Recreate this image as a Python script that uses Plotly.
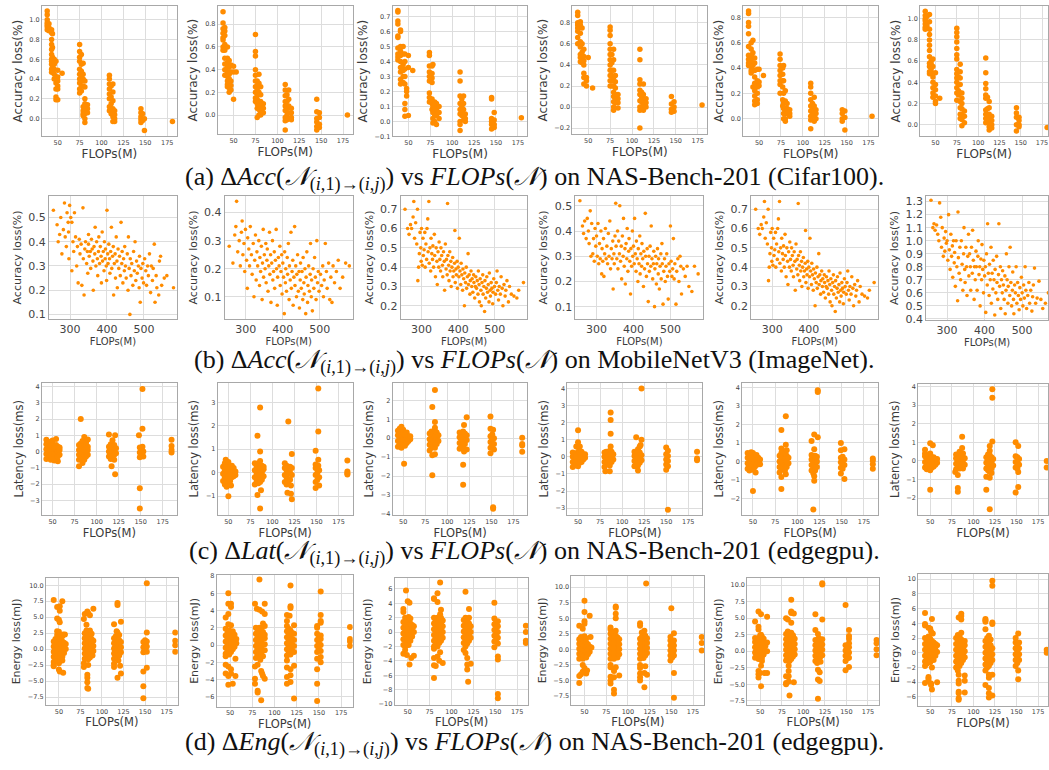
import plotly.graph_objects as go

ORANGE = "#FF8C00"
W, H = 1049, 770

# ---------------- Row (a): NAS-Bench-201 Cifar100, accuracy loss vs FLOPs ----------------
A1 = [(38,[0.9,0.93,0.95,0.97,1.0,1.05,1.09]),(40,[0.89,0.92,0.96]),(43,[0.9,0.87,0.8,0.75,0.7,0.65,0.6,0.58,0.55,0.5,0.47]),
      (44,[0.86,0.72,0.62,0.52,0.48]),(46,[0.6,0.57,0.55,0.5,0.45,0.4]),(48,[0.36,0.3,0.22,0.19,0.42,0.58]),
      (50,[0.49,0.42,0.38,0.33,0.3,0.19]),(55,[0.46]),(75,[0.75,0.68,0.62,0.58,0.5,0.45,0.4,0.36,0.3,0.26]),
      (77,[0.65,0.55,0.48,0.42,0.38,0.33,0.28]),(79,[0.56,0.45,0.4,0.33,0.12,0.08,0.05,0.03]),
      (81,[0.38,0.32,0.2,0.15,0.1,0.05,0.0,-0.04]),(84,[0.14,0.1,0.06]),(109,[0.44,0.4,0.35,0.3,0.25,0.2,0.12,0.08]),
      (111,[0.33,0.22,0.15,0.1,0.05]),(113,[0.35,0.27,0.18,0.1,0.02,-0.03]),(115,[0.08,0.04,0.0,-0.03]),
      (145,[0.1,0.06,0.02,-0.01,-0.04]),(147,[0.05,-0.02]),(149,[0.0,-0.12]),(181,[-0.03])]
A2 = [(38,[0.91,0.81,0.76,0.72,0.68,0.66,0.6,0.57]),(40,[0.77,0.74,0.7,0.62,0.57,0.5,0.45,0.4,0.35]),
      (43,[0.6,0.5,0.46,0.42,0.38,0.34,0.3,0.27,0.25]),(45,[0.48,0.42,0.36,0.32,0.28,0.24,0.2]),
      (47,[0.44,0.38,0.3,0.26,0.22]),(50,[0.43,0.38,0.14]),(53,[0.38]),
      (75,[0.71,0.56,0.52,0.4,0.35,0.3,0.25,0.2,0.15,0.12]),(77,[0.3,0.26,0.22,0.18,0.14,0.1,0.06,-0.02]),
      (79,[0.36,0.28,0.2,0.12,0.05,0.0]),(81,[0.25,0.18,0.12,0.08,0.03,0.0]),(84,[0.1,0.06,0.02]),
      (109,[0.27,0.22,0.17,0.12,0.08,0.04,-0.02,-0.05,-0.13]),(111,[0.18,0.12,0.06,0.0,-0.04]),
      (113,[0.22,0.14,0.08,0.02,-0.03]),(116,[0.06,0.02,-0.02,-0.04]),
      (145,[0.14,0.03,-0.03,-0.06,-0.1,-0.13]),(148,[0.02,-0.02,-0.08,-0.11]),(180,[0.0])]
A3 = [(38,[0.74,0.73,0.67,0.65,0.57,0.56,0.49,0.45,0.43,0.41]),(41,[0.61,0.6,0.5,0.47,0.44,0.4,0.36,0.33,0.28,0.25]),
      (44,[0.5,0.45,0.38,0.34,0.3,0.26]),(46,[0.45,0.4,0.35,0.3,0.25,0.12,0.08,0.035]),(48,[0.22,0.2,0.17]),
      (50,[0.44,0.36,0.04]),(55,[0.34]),(74,[0.46,0.44,0.37,0.33,0.3,0.27,0.19,0.16,0.13]),
      (77,[0.37,0.32,0.29,0.26,0.15,0.12,0.08]),(78,[0.38,0.13,0.1,0.06,0.02,-0.01]),(80,[0.13,0.1,0.07,0.04,0.0]),
      (82,[0.12,0.08,0.04,-0.02]),(85,[0.1,0.06,0.02]),(109,[0.33,0.27,0.17,0.12,0.08,0.05,0.0,-0.02,-0.06]),
      (111,[0.15,0.1,0.07,0.04]),(113,[0.17,0.12,0.08,0.04,0.01]),(115,[0.05,0.02,0.0]),
      (145,[0.16,0.15,0.02,0.0,-0.02,-0.05]),(148,[0.06,0.01,-0.02,-0.04]),(179,[0.025])]
A4 = [(38,[0.9,0.87,0.8,0.78,0.75,0.72,0.66,0.6]),(41,[0.81,0.78,0.7,0.62,0.57,0.5,0.47,0.43]),
      (43,[0.75,0.6,0.52,0.45,0.42]),(45,[0.55,0.48,0.44,0.4,0.32,0.28,0.22]),(48,[0.28,0.25,0.2]),(50,[0.47]),(55,[0.18]),
      (75,[0.76,0.73,0.68,0.6,0.55,0.5,0.45,0.4,0.35,0.3,0.25,0.2]),(77,[0.5,0.42,0.35,0.3,0.25,0.2]),
      (79,[0.55,0.45,0.35,0.28,0.2,0.14,0.1,0.05,0.0,-0.03]),(81,[0.3,0.24,0.18,0.12,0.08,0.04]),(84,[0.12,0.08,0.04,-0.01]),
      (109,[0.55,0.45,0.26,0.22,0.16,0.12,0.06,0.0,-0.03,-0.2]),(111,[0.14,0.1,0.05,0.0]),
      (113,[0.22,0.12,0.06,0.02,-0.03]),(116,[0.08,0.04,0.0]),(145,[0.1,0.03,-0.02,-0.05]),(148,[0.05,0.0,-0.04]),(180,[0.02])]
A5 = [(38,[0.85,0.83,0.76,0.73,0.67,0.57,0.5,0.47,0.44,0.42]),(41,[0.6,0.55,0.5,0.47,0.44,0.41,0.38,0.36]),
      (43,[0.62,0.52,0.48,0.42,0.38,0.25]),(45,[0.48,0.44,0.38,0.33,0.28,0.22,0.18,0.14,0.11]),
      (48,[0.39,0.3,0.25,0.2,0.15,0.12]),(50,[0.39,0.29,0.26]),(55,[0.34]),
      (74,[0.51,0.47,0.42,0.38,0.34,0.3,0.27,0.2]),(77,[0.4,0.35,0.3,0.25,0.15,0.1]),(78,[0.42,0.3,0.2,0.12,0.08,0.04,0.0]),
      (80,[0.22,0.14,0.08,0.04,0.0,-0.02]),(82,[0.12,0.08,0.04]),(85,[0.07,0.04,0.02]),
      (109,[0.28,0.25,0.2,0.15,0.1,0.06,0.02,-0.01,-0.08]),(111,[0.12,0.08,0.04]),(113,[0.17,0.1,0.06,0.02,-0.02]),
      (115,[0.07,0.04,0.0]),(145,[0.07,0.04,0.0,-0.02]),(148,[0.06,0.01,-0.09]),(179,[0.02])]
A6 = [(38,[1.07,1.03,1.0,0.98,0.95,0.92,0.9]),(40,[1.02,0.96,0.93]),(43,[1.04,0.97,0.9,0.85,0.8,0.75,0.7,0.64,0.58,0.55,0.5,0.48]),
      (45,[0.6,0.57,0.53,0.5,0.48]),(47,[0.62,0.55,0.45,0.4,0.35,0.3,0.26]),(50,[0.49,0.38,0.33,0.27,0.22,0.2]),(55,[0.25]),
      (75,[0.91,0.87,0.83,0.78,0.72,0.66,0.62,0.52,0.48,0.44,0.4,0.35,0.3,0.23]),(77,[0.45,0.38,0.32,0.28]),
      (79,[0.57,0.5,0.44,0.38,0.3,0.22,0.16,0.1,0.06]),(81,[0.3,0.25,0.2,0.15,0.1,0.05,-0.01]),(84,[0.13,0.08,0.02]),
      (109,[0.63,0.49,0.39,0.34,0.28,0.25,0.14,0.1,0.06,0.02]),(111,[0.26,0.15,0.08,0.04]),
      (113,[0.22,0.16,0.1,0.06,0.02,-0.02,-0.05]),(116,[0.08,0.04,0.0,-0.03]),(145,[0.16,0.11,0.07,0.0,-0.06]),
      (148,[0.07,0.04,0.0,-0.02]),(181,[-0.025])]

# ---------------- Row (b): MobileNetV3 ImageNet, (FLOPs, accuracy loss) ----------------
B1 = [(255,0.53),(265,0.47),(268,0.40),(272,0.43),(275,0.50),(278,0.35),(282,0.45),(285,0.56),(287,0.42),(290,0.38),
      (292,0.52),(295,0.48),(297,0.33),(299,0.55),(296,0.44),(302,0.50),(305,0.48),(305,0.28),(308,0.40),(310,0.36),
      (312,0.52),(315,0.42),(318,0.30),(320,0.38),(322,0.23),(325,0.41),(327,0.35),(330,0.39),(332,0.22),(335,0.54),
      (336,0.33),(338,0.18),(340,0.37),(342,0.40),(345,0.31),(347,0.36),(348,0.27),(350,0.39),(350,0.43),(352,0.34),
      (355,0.36),(356,0.29),(358,0.41),(360,0.37),(362,0.32),(363,0.20),(365,0.38),(367,0.35),(368,0.46),(370,0.30),
      (372,0.40),(374,0.33),(375,0.26),(377,0.36),(378,0.42),(380,0.31),(382,0.38),(384,0.34),(385,0.23),(387,0.44),
      (388,0.32),(390,0.36),(392,0.28),(393,0.40),(395,0.33),(396,0.37),(398,0.30),(399,0.24),(400,0.53),(402,0.35),
      (403,0.31),(405,0.39),(407,0.33),(408,0.27),(410,0.36),(412,0.46),(413,0.29),(415,0.34),(417,0.38),(418,0.18),
      (420,0.31),(422,0.35),(423,0.25),(425,0.42),(427,0.32),(428,0.21),(430,0.37),(432,0.29),(434,0.34),(436,0.26),
      (438,0.48),(440,0.31),(441,0.36),(443,0.23),(445,0.33),(447,0.28),(448,0.38),(450,0.30),(452,0.25),(455,0.35),
      (457,0.20),(458,0.42),(460,0.29),(462,0.10),(463,0.33),(465,0.26),(467,0.31),(470,0.22),(472,0.36),(474,0.28),
      (476,0.40),(478,0.24),(480,0.32),(482,0.27),(485,0.30),(487,0.21),(488,0.34),(490,0.15),(492,0.29),(495,0.25),
      (497,0.31),(499,0.23),(502,0.33),(505,0.28),(507,0.22),(510,0.30),(512,0.26),(515,0.35),(518,0.19),(520,0.30),
      (523,0.24),(525,0.29),(528,0.39),(530,0.15),(533,0.26),(535,0.21),(540,0.18),(542,0.32),(545,0.34),(548,0.22),
      (555,0.25),(562,0.26),(580,0.21)]
B2 = [(255,0.28),(265,0.22),(270,0.32),(273,0.35),(275,0.44),(278,0.26),(282,0.30),(285,0.21),(288,0.33),(290,0.37),
      (292,0.25),(295,0.29),(297,0.19),(299,0.34),(302,0.23),(304,0.13),(305,0.31),(308,0.27),(310,0.21),(312,0.35),
      (315,0.25),(317,0.18),(320,0.29),(322,0.10),(324,0.23),(326,0.32),(328,0.16),(330,0.26),(332,0.21),(335,0.30),
      (337,0.14),(338,0.24),(340,0.19),(342,0.28),(344,0.09),(345,0.22),(347,0.34),(348,0.17),(350,0.25),(352,0.20),
      (354,0.29),(355,0.15),(357,0.23),(358,0.27),(360,0.12),(362,0.21),(364,0.33),(365,0.18),(367,0.25),(368,0.08),
      (370,0.22),(372,0.30),(373,0.16),(375,0.19),(377,0.26),(378,0.13),(380,0.23),(382,0.34),(383,0.20),(385,0.07),
      (386,0.17),(388,0.24),(390,0.21),(392,0.28),(393,0.14),(395,0.19),(397,0.25),(398,0.11),(400,0.22),(402,0.17),
      (404,0.04),(405,0.26),(407,0.15),(408,0.20),(410,0.12),(412,0.24),(413,0.18),(415,0.29),(417,0.09),(418,0.21),
      (420,0.16),(422,0.33),(423,0.13),(425,0.19),(427,0.23),(428,0.07),(430,0.17),(432,0.35),(433,0.14),(435,0.21),
      (437,0.10),(438,0.18),(440,0.25),(442,0.12),(444,0.19),(445,0.06),(447,0.16),(448,0.22),(450,0.13),(452,0.19),
      (454,0.09),(455,0.24),(457,0.15),(458,0.11),(460,0.20),(462,0.04),(463,0.17),(465,0.26),(467,0.08),(468,0.14),
      (470,0.21),(472,0.12),(474,0.18),(475,0.29),(477,0.10),(478,0.16),(480,0.05),(482,0.20),(484,0.13),(486,0.24),
      (488,0.17),(490,0.09),(492,0.30),(494,0.15),(496,0.19),(498,0.12),(502,0.18),(505,0.14),(508,0.21),(510,0.10),
      (512,0.16),(515,0.29),(518,0.19),(520,0.13),(524,0.22),(527,0.09),(530,0.17),(533,0.08),(536,0.21),(540,0.15),
      (545,0.19),(550,0.23),(555,0.13),(562,0.17),(570,0.22),(580,0.21)]
B3 = [(255,0.70),(262,0.60),(266,0.57),(270,0.62),(273,0.60),(277,0.66),(279,0.74),(281,0.55),(284,0.63),(287,0.52),
      (289,0.70),(290,0.33),(292,0.40),(294,0.47),(296,0.58),(298,0.50),(299,0.43),(300,0.60),(302,0.41),(304,0.55),
      (305,0.46),(307,0.49),(309,0.58),(310,0.40),(312,0.52),(314,0.44),(315,0.60),(317,0.65),(318,0.48),(320,0.74),
      (321,0.42),(323,0.50),(325,0.38),(326,0.55),(328,0.47),(330,0.44),(331,0.51),(333,0.40),(335,0.57),(336,0.46),
      (338,0.35),(340,0.50),(342,0.43),(343,0.31),(345,0.48),(347,0.40),(348,0.53),(350,0.44),(352,0.38),(353,0.50),
      (355,0.46),(357,0.41),(358,0.35),(360,0.48),(362,0.43),(363,0.28),(365,0.52),(367,0.39),(368,0.44),(370,0.36),
      (371,0.73),(372,0.46),(374,0.41),(375,0.33),(377,0.48),(378,0.38),(380,0.43),(381,0.30),(383,0.40),(385,0.45),
      (386,0.35),(388,0.38),(390,0.42),(391,0.59),(392,0.32),(394,0.39),(395,0.36),(397,0.43),(398,0.29),(400,0.40),
      (402,0.35),(403,0.55),(405,0.38),(407,0.31),(408,0.42),(410,0.36),(412,0.28),(413,0.39),(415,0.34),(417,0.20),
      (418,0.37),(420,0.32),(422,0.40),(423,0.29),(425,0.35),(427,0.47),(428,0.31),(430,0.36),(432,0.26),(433,0.33),
      (435,0.38),(437,0.30),(438,0.34),(440,0.27),(442,0.36),(443,0.32),(445,0.24),(447,0.30),(448,0.35),(450,0.29),
      (452,0.33),(454,0.26),(455,0.38),(457,0.31),(458,0.22),(460,0.34),(462,0.28),(463,0.20),(465,0.32),(467,0.36),
      (468,0.26),(470,0.30),(472,0.17),(473,0.33),(475,0.24),(477,0.29),(478,0.35),(480,0.27),(482,0.31),(484,0.22),
      (485,0.37),(487,0.28),(488,0.25),(490,0.32),(492,0.29),(494,0.21),(495,0.27),(497,0.34),(499,0.30),(502,0.26),
      (504,0.32),(506,0.38),(508,0.28),(510,0.23),(512,0.30),(515,0.26),(517,0.35),(520,0.29),(522,0.20),(525,0.31),
      (528,0.25),(530,0.28),(533,0.33),(537,0.22),(540,0.30),(545,0.26),(552,0.25),(560,0.24),(565,0.28),(578,0.32)]
B4 = [(255,0.52),(262,0.42),(265,0.39),(268,0.44),(272,0.37),(275,0.45),(278,0.40),(280,0.35),(283,0.48),(285,0.30),
      (287,0.43),(290,0.31),(292,0.37),(294,0.28),(296,0.41),(298,0.34),(300,0.38),(302,0.30),(304,0.43),(306,0.27),
      (308,0.35),(310,0.29),(312,0.40),(314,0.23),(315,0.33),(317,0.28),(319,0.37),(320,0.22),(322,0.31),(324,0.41),
      (326,0.29),(328,0.34),(330,0.27),(332,0.39),(334,0.30),(336,0.44),(338,0.25),(340,0.33),(342,0.29),(344,0.36),
      (345,0.17),(347,0.31),(348,0.27),(350,0.38),(352,0.51),(353,0.34),(355,0.29),(357,0.40),(358,0.25),(360,0.36),
      (362,0.31),(363,0.50),(365,0.28),(367,0.34),(368,0.21),(370,0.38),(372,0.30),(373,0.45),(375,0.26),(377,0.33),
      (378,0.19),(380,0.35),(382,0.29),(383,0.41),(385,0.24),(387,0.32),(388,0.37),(390,0.28),(392,0.15),(393,0.33),
      (395,0.26),(397,0.40),(398,0.30),(400,0.34),(402,0.27),(403,0.45),(405,0.31),(407,0.24),(408,0.36),(410,0.29),
      (412,0.20),(413,0.33),(415,0.27),(417,0.38),(418,0.23),(420,0.31),(422,0.26),(423,0.35),(425,0.29),(427,0.18),
      (428,0.32),(430,0.25),(432,0.47),(433,0.30),(435,0.22),(437,0.33),(438,0.27),(440,0.12),(442,0.30),(443,0.24),
      (445,0.34),(447,0.26),(448,0.42),(450,0.29),(452,0.21),(454,0.27),(455,0.32),(457,0.10),(458,0.25),(460,0.30),
      (462,0.19),(463,0.27),(465,0.33),(467,0.23),(468,0.29),(470,0.17),(472,0.26),(474,0.31),(475,0.21),(477,0.35),
      (478,0.27),(480,0.11),(482,0.24),(484,0.29),(486,0.20),(488,0.26),(490,0.31),(492,0.22),(494,0.13),(496,0.27),
      (498,0.24),(500,0.42),(502,0.28),(504,0.22),(506,0.25),(508,0.37),(510,0.21),(512,0.27),(515,0.11),(517,0.24),
      (520,0.29),(523,0.20),(526,0.30),(528,0.26),(530,0.15),(535,0.25),(540,0.22),(545,0.26),(550,0.18),(558,0.16),
      (565,0.26),(575,0.23)]
B6 = [(257,1.31),(262,1.10),(265,1.13),(268,1.08),(272,1.12),(275,1.05),(278,1.00),(280,1.29),(283,1.18),(285,0.95),
      (287,1.10),(290,0.88),(292,1.02),(294,0.92),(296,1.07),(298,0.98),(300,1.00),(302,0.85),(304,1.20),(306,0.93),
      (308,0.78),(310,1.05),(312,0.88),(314,0.96),(315,0.72),(317,1.00),(319,0.83),(320,0.91),(322,0.65),(324,1.00),
      (326,0.80),(328,0.54),(329,1.22),(330,0.87),(332,0.75),(334,0.95),(336,0.70),(338,1.00),(340,0.82),(342,0.62),
      (344,0.90),(345,1.10),(347,0.78),(348,0.68),(350,0.95),(352,0.80),(353,0.58),(355,0.88),(357,1.05),(358,0.73),
      (360,0.90),(362,0.80),(363,0.62),(365,0.95),(367,0.75),(368,1.08),(370,0.85),(372,0.55),(373,0.80),(375,0.70),
      (377,0.92),(378,0.80),(380,0.62),(382,0.88),(383,1.00),(385,0.74),(387,0.80),(388,0.50),(390,0.86),(392,0.70),
      (393,0.97),(395,0.78),(397,0.60),(398,0.85),(400,0.73),(402,0.80),(403,0.45),(405,0.90),(407,0.66),(408,1.13),
      (410,0.75),(412,0.58),(413,0.82),(415,0.70),(417,0.95),(418,0.52),(420,0.75),(422,0.63),(423,0.85),(425,0.70),
      (427,0.43),(428,0.78),(430,0.60),(432,0.88),(433,0.68),(435,0.55),(437,0.74),(438,1.13),(440,0.65),(442,0.80),
      (443,0.48),(445,0.70),(447,0.60),(448,0.77),(450,0.66),(452,0.55),(454,0.73),(455,0.44),(457,0.62),(458,0.90),
      (460,0.70),(462,0.52),(463,0.65),(465,0.80),(467,0.58),(468,0.95),(470,0.68),(472,0.50),(474,0.62),(475,0.76),
      (477,0.55),(478,0.44),(480,0.66),(482,0.60),(484,0.80),(486,0.52),(488,0.68),(490,0.58),(492,0.47),(494,0.64),
      (496,0.55),(498,0.72),(500,0.60),(502,0.50),(504,0.66),(506,0.56),(508,0.80),(510,0.62),(512,0.48),(515,0.58),
      (518,0.68),(520,0.52),(523,0.62),(526,0.46),(528,0.57),(530,0.66),(533,0.79),(536,0.52),(540,0.56),(545,0.69),
      (550,0.55),(555,0.48),(562,0.52),(570,0.60),(578,0.53)]
B5 = B3  # the fifth panel repeats the third one in the source figure

# ---------------- Row (c): NAS-Bench-201 edgegpu, latency loss ----------------
C1 = [(43,[-0.45,-0.15,0.15,0.45,0.72]),(46,[-0.35,-0.05,0.25,0.5]),(48,[-0.5,-0.2,0.1,0.38,0.6]),(50,[-0.4,-0.1,0.2,0.45,0.68]),
      (52,[-0.55,-0.25,0.05,0.3]),(54,[-0.45,-0.15,0.15,0.4,0.78]),(56,[-0.6,-0.3,0.0,0.3]),(58,[-0.2,0.1,0.25]),
      (80,[-0.9,-0.5,-0.2,0.1,0.4]),(82,[-0.35,-0.05,0.25,0.5,2.0]),(84,[-0.7,-0.4,-0.1,0.2,0.65]),(86,[-0.5,-0.2,0.1,0.4,0.9]),
      (88,[-0.3,0.0,0.3,0.55]),(90,[-0.2,0.1,0.3,0.75]),(114,[-0.3,0.0,0.3,1.05]),(116,[-0.45,-0.15,0.15,0.45]),(117,[-0.9]),
      (118,[-0.3,0.0,0.3,0.7]),(120,[-0.5,-0.2,0.1,0.4]),(121,[1.0,-1.4]),(122,[-0.1,0.2]),(148,[1.0]),
      (149,[-2.25,-3.5,-0.35,-0.05,0.25]),(151,[-0.2,0.1]),(152,[3.85,1.4,0.3]),(153,[-0.3,0.0]),(185,[0.72,0.35,0.1,-0.05])]
C2 = [(44,[-0.35,-0.05,0.25]),(46,[-0.5,-0.2,0.1,0.4]),(47,[0.55]),(48,[-0.6,-0.3,0.0,0.3]),(50,[-1.0,-0.45,-0.15,0.15,0.45]),
      (52,[-0.35,-0.05,0.25]),(53,[-0.55]),(54,[-0.2,0.1,0.3]),(56,[-0.15,0.05,0.2]),(58,[-0.1,0.05]),
      (80,[-0.5,-0.2,0.1,0.4]),(82,[-0.35,-0.05,0.25]),(83,[1.57,-0.95]),(84,[-0.45,-0.15,0.15,0.4]),
      (86,[2.78,0.9,-0.4,-0.1,0.2,0.5,-1.53]),(87,[-0.75]),(88,[-0.3,0.0,0.3]),(90,[-0.15,0.15,0.25]),
      (114,[-0.4,-0.1,0.2,0.4]),(116,[-0.5,-0.2,0.1,0.3]),(117,[-0.85]),(118,[2.18,-0.35,-0.05,0.25]),(120,[-0.3,0.0,0.25]),
      (121,[-0.9,-0.55]),(122,[0.8,-1.13,-0.1,0.2]),(149,[0.93,-0.65,-0.4,-0.1,0.2,0.35]),(151,[-0.3,0.0,0.15]),
      (152,[3.58,1.75,0.55,0.3]),(153,[-0.55,-0.2,0.1]),(185,[0.52,0.05,-0.02,-0.08])]
C3 = [(44,[-0.45,-0.15,0.15,0.4]),(46,[-0.3,0.0,0.3,0.5]),(48,[-0.5,-0.2,0.1,0.6]),(50,[-0.35,-0.05,0.25,0.45]),(51,[-1.35]),
      (52,[-0.4,-0.1,0.2]),(54,[-0.25,0.05,0.3]),(56,[-0.15,0.1]),(58,[-0.05,0.1]),
      (80,[-0.65,-0.35,-0.05,0.25]),(82,[-0.5,-0.2,0.1,0.35]),(83,[1.65,-0.9,-1.95]),(84,[-0.35,-0.05,0.25]),
      (86,[2.55,0.85,0.55,-0.85,-0.5,-0.2,0.1,0.4]),(88,[-0.3,0.0,0.3]),(90,[-0.15,0.15]),
      (114,[-0.55,-0.25,0.05,0.3]),(116,[-0.4,-0.1,0.2]),(118,[-1.4,-2.45,-0.5,-0.2,0.1,0.35]),(119,[0.7,-0.7]),
      (120,[-0.3,0.0,0.25]),(122,[1.1,-0.6,-0.1,0.15]),(149,[1.15,0.5,-0.8,-0.5,-0.2,0.1]),(151,[-0.35,-0.05,0.2]),
      (152,[0.45,-3.65,-3.72]),(153,[-0.6,-0.3,0.0]),(185,[0.02,-0.3,-0.38,-0.72])]
C4 = [(44,[-0.6,-0.3,0.0,0.25]),(46,[-0.5,-0.2,0.1]),(48,[0.6,-0.4,-0.1,0.2]),(50,[1.55,0.85,-0.55,-0.25,0.05,0.3]),
      (52,[0.6,-0.35,-0.05,0.25]),(54,[-0.3,0.0,0.3]),(56,[-0.15,0.15]),(58,[-0.05,0.15]),
      (80,[-0.6,-0.3,0.0,0.25]),(81,[-0.85]),(82,[-0.45,-0.15,0.15,0.3]),(84,[-0.35,-0.05,0.25]),(86,[-0.85,-0.5,-0.2,0.1,0.35]),
      (87,[2.6,2.15,1.35,0.6]),(88,[-0.3,0.0,0.3]),(90,[-0.15,0.15]),(114,[-0.55,-0.25,0.05,0.3]),(116,[1.15,-0.4,-0.1,0.2]),
      (118,[-0.8,-0.5,-0.2,0.1,0.45]),(120,[-0.35,-0.05,0.25,0.6]),(121,[0.7]),(122,[4.0,1.0,-0.2,0.1]),
      (150,[0.55,-0.75,-0.45,-0.15,0.15]),(152,[-3.1,-0.55,-0.25,0.05,0.35]),(185,[0.3,-0.1,-0.2])]
C5 = [(44,[-0.4,-0.1,0.2,0.45]),(46,[-0.5,-0.2,0.1,0.4]),(48,[-0.35,-0.05,0.25,0.5]),(50,[-1.6,-0.45,-0.15,0.15,0.45]),
      (52,[-0.3,0.0,0.3]),(53,[-0.6]),(54,[-0.2,0.1,0.35]),(56,[-0.1,0.2]),(58,[-0.15,0.1]),
      (80,[-0.6,-0.3,0.0,0.3]),(82,[1.7,0.7,-0.85,-1.5,-0.45,-0.15,0.15,0.45]),(84,[-0.35,-0.05,0.25,0.55]),
      (86,[-0.5,-0.2,0.1,0.4]),(87,[2.45,0.9,-0.7]),(88,[-0.3,0.0,0.3,0.6]),(90,[-0.1,0.2]),
      (116,[1.1,0.35,-0.5,-0.2,0.1]),(118,[-2.6,-0.65,-0.35,-0.05,0.25]),(119,[1.45,0.65,-1.05,-0.8]),
      (120,[-0.5,-0.2,0.1,0.3]),(122,[-0.3,0.0,0.25]),(123,[3.85,3.75,1.3]),(149,[1.0,0.6,-0.65,-0.35,-0.05,0.2]),
      (151,[-0.4,-0.1,0.25]),(153,[0.65,-0.95,-0.2,0.1]),(185,[0.15,0.05,-0.15,-0.4])]
C6 = [(44,[0.6,-0.35,-0.05,0.25,0.4]),(46,[-0.45,-0.15,0.15]),(48,[-0.3,0.0,0.3]),(50,[0.95,-1.55,-0.5,-0.2,0.1,0.4]),
      (52,[-0.35,-0.05,0.2]),(53,[0.85]),(54,[-0.3,0.0,0.2]),(56,[-0.2,0.1]),(58,[-0.1,0.1]),
      (79,[-0.6]),(80,[-0.45,-0.15,0.15,0.35]),(82,[-1.45,-1.65,-0.75,-0.3,0.0,0.3]),(84,[-0.4,-0.1,0.2,0.5]),
      (86,[-0.35,-0.05,0.25]),(87,[1.3,0.7]),(88,[-0.4,-0.1,0.2,0.4]),(90,[-0.2,0.15]),
      (115,[-1.55,-0.85,-0.4,-0.1,0.2]),(117,[-0.5,-0.2,0.1,0.35]),(119,[0.8,0.55,-2.6,-0.9,-0.6,-0.3,0.0,0.3]),
      (121,[-0.65,-0.4,-0.1,0.2]),(122,[3.85,3.4,1.05]),(123,[-0.25,0.1]),(149,[1.0,-1.7,-0.35,-0.05,0.25]),
      (151,[-0.4,-0.1,0.2]),(152,[0.8,-0.6,-1.4]),(153,[-0.2,0.1]),(185,[0.0,-0.35])]

# ---------------- Row (d): NAS-Bench-201 edgegpu, energy loss ----------------
D1 = [(44,[-2.0,-1.2,-0.4,0.4,1.2,7.7,-2.5,-2.7]),(46,[-1.5,-0.7,0.1,0.9,1.6]),(48,[-1.8,-1.0,-0.2,0.6,1.4,2.2,6.6,4.8,2.8]),
      (50,[-1.3,-0.5,0.3,1.1,1.9,2.7,4.6,-2.2,-3.2]),(51,[6.7,6.0,4.2,-3.5]),(52,[-1.6,-0.8,0.0,0.8,1.6]),
      (54,[-1.2,-0.4,0.4,1.2,2.0,7.5,-1.8]),(55,[2.3,-3.7]),(56,[-0.6,0.2,1.0]),(57,[2.3]),(58,[0.0,0.8]),
      (79,[4.7,-2.2,-2.8]),(80,[-1.5,-0.7,0.1,0.9,1.7,2.5,5.5]),(82,[-1.2,-0.4,0.4,1.2,2.0,2.9,3.8]),(83,[5.9,-4.0,-4.5,-5.2,-6.1]),
      (84,[-1.6,-0.8,0.0,0.8,1.6,2.4,5.6,-2.5,-6.2]),(86,[-1.3,-0.5,0.3,1.1,1.9,2.9,5.3]),(88,[-0.8,0.0,0.8,1.6,2.4]),(89,[-1.0]),
      (90,[-0.3,0.5,1.3,6.3]),(114,[-1.5,-0.7,0.1,0.9,1.7,3.9,-2.3,-2.8]),(116,[-1.2,-0.4,0.4,1.2,2.0]),(117,[2.8]),
      (118,[-1.4,-0.6,0.2,1.0,1.8,2.6,7.2,6.9,-4.5]),(119,[-1.8]),(120,[-1.0,-0.2,0.6,1.4,2.2]),(121,[-2.6]),
      (122,[-0.5,0.3,1.1,4.3,-3.8]),(148,[-0.5,0.3,1.1,-3.5,-5.8,-7.7]),(150,[-0.2,0.6,1.4]),(152,[-0.4,0.4,1.2,10.3,2.6,-2.9]),
      (185,[2.6,1.3,0.6,-0.4])]
D2 = [(45,[-1.0,-0.3,0.4,1.1,3.2,1.9,-1.3,-2.3,-3.3]),(47,[-0.7,0.0,0.7,1.4]),(48,[6.0,4.8,3.6,2.4,-2.5,-3.6,-4.6]),
      (49,[-1.1,-0.4,0.3,1.0,1.7]),(51,[-0.8,-0.1,0.6,1.3,4.8,4.4,2.3,-2.8,-3.3]),(53,[-0.5,0.2,0.9,1.6,-4.5]),
      (55,[-0.2,0.5,1.2]),(56,[-3.6,-1.6]),(57,[0.2,0.7]),(78,[4.8,-2.5,-3.9,-4.5]),(79,[-1.5,-0.8,-0.1,0.6,1.3,2.0]),(80,[4.2]),
      (81,[-1.2,-0.5,0.2,0.9,1.6,-2.3,-5.3,-5.5]),(83,[-1.4,-0.7,0.0,0.7,1.4,2.0,7.6,4.1]),(84,[-1.7]),
      (85,[-1.0,-0.3,0.4,1.1,1.8,-3.0,-6.4]),(86,[3.9,-3.3]),(87,[-1.3,-0.6,0.1,0.8,1.5,2.5,-3.6]),
      (89,[-0.6,0.1,0.8,1.2,4.8,3.6,2.2,-3.9]),(114,[-1.2,-0.5,0.2,0.9,1.6,2.2,3.5,2.8,-1.8,-2.6,-3.7,-4.5]),
      (116,[-0.9,-0.2,0.5,1.2,1.9]),(117,[3.4]),(118,[-1.1,-0.4,0.3,1.0,1.7,6.9,4.5,4.3,-2.8,-3.5,-4.3]),
      (120,[-0.7,0.0,0.7,1.4]),(122,[-0.8,-0.1,0.6,1.3,2.3,-6.2,-2.4]),(148,[-0.8,-0.1,0.6,1.3,2.2,2.0,-1.6,-2.8,-4.5,-6.5]),
      (150,[-0.5,0.2,0.9]),(152,[-0.7,0.0,0.7,1.1,6.2,3.5,2.8,2.6,-1.4,-2.0]),(185,[2.1,0.7,0.4,-0.1])]
D3 = [(45,[-1.8,-1.0,-0.2,0.6,1.4,3.2,2.8,-3.0]),(47,[-2.0,-1.2,-0.4,0.4,1.2,2.0,-2.5]),(48,[5.8]),(49,[-1.5,-0.7,0.1,0.9,1.7,-3.2]),
      (50,[4.3]),(51,[-1.8,-1.0,-0.2,0.6,1.4,2.1]),(52,[4.1,-4.5]),(53,[-1.2,-0.4,0.4,1.2,1.9]),(54,[-3.6]),(55,[-0.6,0.2,1.0]),
      (57,[0.0,0.8,-3.3]),(80,[-2.0,-1.2,-0.4,0.4,1.2,2.0,4.7,4.6,-2.3,-3.6,-4.6,-6.4]),(82,[-1.6,-0.8,0.0,0.8,1.6,-4.7]),
      (84,[-2.0,-1.2,-0.4,0.4,1.2,2.0,5.4,4.2,-3.4]),(86,[-1.5,-0.7,0.1,0.9,1.7,-4.0]),(87,[6.9,2.5,-2.8]),
      (88,[-1.2,-0.4,0.4,1.2,2.0,3.1]),(90,[-0.8,0.0,0.8,1.6,-4.3]),(114,[-1.5,-0.7,0.1,0.9,1.7,-2.5]),
      (116,[-2.0,-1.2,-0.4,0.4,1.2,2.0,5.6,-2.9]),(118,[-1.6,-0.8,0.0,0.8,1.6,-3.6,-4.5,-5.2]),(119,[-6.9]),
      (120,[-1.2,-0.4,0.4,1.2,2.0,3.2]),(122,[-0.8,0.0,0.8,-4.4]),(149,[-2.1,-1.3,-0.5,0.3,1.1,1.9,4.1]),
      (151,[-1.0,-0.2,0.6,1.4]),(153,[-1.6,-0.8,0.0,0.8,1.5,-3.4,-3.8,-8.6,-9.2]),(185,[0.9,0.0,-1.2,-1.5])]
D4 = [(44,[-1.5,-0.7,0.1,0.9,1.6,3.8,-4.3,-5.4]),(46,[-1.2,-0.4,0.4,1.2,2.0,-4.0]),(48,[-1.5,-0.7,0.1,0.9,1.7,3.3,-2.5,-3.6]),
      (50,[-1.0,-0.2,0.6,1.4,2.1,7.8,6.0,4.5,4.1,-3.0]),(52,[-1.3,-0.5,0.3,1.1,1.8,-3.9]),(53,[-3.4]),(54,[-0.8,0.0,0.8]),
      (56,[-0.4,0.4,5.4]),(57,[2.0]),(58,[0.3]),(80,[-1.5,-0.7,0.1,0.9,1.7,2.5,3.2,3.5,-2.5,-2.9,-4.4,-5.0,-5.5]),
      (82,[-1.2,-0.4,0.4,1.2,2.0,2.8]),(84,[-1.5,-0.7,0.1,0.9,1.7,2.5,-3.5,-4.5,-6.5,-7.1]),
      (86,[-1.0,-0.2,0.6,1.4,2.2,3.0,6.9,6.7,5.7,5.0,-2.9]),(88,[-1.3,-0.5,0.3,1.1,1.9]),(90,[-0.8,0.0,0.8,1.6,-4.2]),
      (114,[-1.5,-0.7,0.1,0.9,1.7,4.2,3.8,-2.5,-3.0,-3.9,-4.5,-5.0]),(116,[-1.2,-0.4,0.4,1.2,2.0,2.7]),
      (118,[-1.4,-0.6,0.2,1.0,1.8]),(119,[3.0,-3.8,-6.1]),(120,[-1.0,-0.2,0.6,1.4,2.2,-2.7]),(121,[10.6]),
      (122,[-0.6,0.2,1.0,1.8,-4.1]),(149,[-1.8,-1.0,-0.2,0.6,1.4,2.0]),(150,[6.6]),(151,[-1.3,-0.5,0.3,1.1]),
      (153,[-1.0,-0.2,0.6,1.4,2.6,-3.8,-7.8]),(185,[2.0,1.0,-0.2])]
D5 = [(44,[-1.0,-0.2,0.6,1.4,2.0,4.5]),(46,[-0.6,0.2,1.0,1.8]),(48,[-1.2,-0.4,0.4,1.2,2.0,6.0,3.7,3.3,-3.0,-3.5,-4.0]),
      (50,[-0.8,0.0,0.8,1.6,2.4,-3.3]),(51,[5.6,2.5,-2.2,-5.3]),(52,[-1.0,-0.2,0.6,1.4,2.2,-1.5]),(54,[-0.5,0.3,1.1,1.9]),
      (55,[-3.3]),(56,[0.0,0.8]),(58,[1.3,0.0,5.2,-3.3]),(80,[-1.4,-0.6,0.2,1.0,1.8,2.6,5.0,-3.8,-4.8,-5.0]),
      (82,[-1.0,-0.2,0.6,1.4,2.2,3.0,4.8]),(83,[-2.2,-3.0,-3.8,-4.6]),(84,[-1.5,-0.7,0.1,0.9,1.7,2.5,-6.7]),
      (86,[-1.2,-0.4,0.4,1.2,2.0,2.8,7.8,6.0,5.8,4.3]),(88,[-0.8,0.0,0.8,1.6,2.4]),(89,[5.7,-4.7]),(90,[-0.5,0.3,1.1,1.9]),
      (114,[-1.5,-0.7,0.1,0.9,1.7,5.6,3.2]),(116,[-1.8,-1.0,-0.2,0.6,1.4]),(117,[2.6,-2.8,-4.3,-7.2]),
      (118,[-1.2,-0.4,0.4,1.2,2.0]),(119,[-3.2,-4.5]),(120,[-1.6,-0.8,0.0,0.8,1.6]),(122,[-0.6,0.2,1.0,1.8,10.3,10.1,4.8]),
      (149,[-1.5,-0.7,0.1,0.9,7.0,-2.9]),(151,[-1.1,-0.3,0.5]),(153,[-1.0,-0.2,0.6,1.2,3.2,2.3,1.9,-2.4]),
      (185,[1.7,1.2,0.3,-0.6])]
D6 = [(44,[-1.2,-0.4,0.4,1.2,2.0,5.4,3.9,3.7,-1.8,-4.1]),(46,[-1.5,-0.7,0.1,0.9,1.7]),(48,[-1.0,-0.2,0.6,1.4,2.2,3.4,-3.3,-3.5,-3.8]),
      (50,[-1.3,-0.5,0.3,1.1,1.9,3.3]),(51,[2.9,-4.2,-4.4]),(52,[-0.8,0.0,0.8,1.6,4.6,-2.0,-5.0]),(53,[2.6]),
      (54,[-1.0,-0.2,0.6,1.4]),(56,[-0.4,0.4,1.2]),(58,[0.1,1.0,-4.0]),(80,[-2.0,-1.2,-0.4,0.4,1.2,2.0]),
      (82,[-2.4,-1.6,-0.8,0.0,0.8,1.6,2.4]),(83,[4.8,-3.0,-3.8,-4.2,-5.3,-5.5,-6.2,-6.4]),(84,[-1.8,-1.0,-0.2,0.6,1.4,2.2]),
      (86,[-1.4,-0.6,0.2,1.0,1.8,2.7,5.3,5.0,4.5]),(88,[-1.0,-0.2,0.6,1.4]),(90,[-0.6,0.2,1.0,1.6,-3.1,-3.8,-5.4]),
      (114,[-1.6,-0.8,0.0,0.8,1.6,4.6,4.4,4.2,3.2,-2.4,-4.4]),(116,[-2.0,-1.2,-0.4,0.4,1.2,2.0]),
      (118,[-1.8,-1.0,-0.2,0.6,1.4,2.3,-3.0,-3.4,-4.8,-5.5,-6.1]),(120,[-1.4,-0.6,0.2,1.0,1.8]),
      (122,[-1.0,-0.2,0.6,9.8,9.1,4.1,3.9,-5.8,-3.0]),(149,[-1.8,-1.0,-0.2,0.6,1.4,2.0]),(151,[-1.4,-0.6,0.2,1.0]),
      (152,[2.6,-2.4,-3.6]),(153,[-1.0,-0.2,0.6,1.4]),(185,[0.4,0.0])]

CAPTIONS = [
    "(a) Δ<i>Acc</i>(<i>𝒩</i><sub>(<i>i</i>,1)→(<i>i</i>,<i>j</i>)</sub>) vs <i>FLOPs</i>(<i>𝒩</i>) on NAS-Bench-201 (Cifar100).",
    "(b) Δ<i>Acc</i>(<i>𝒩</i><sub>(<i>i</i>,1)→(<i>i</i>,<i>j</i>)</sub>) vs <i>FLOPs</i>(<i>𝒩</i>) on MobileNetV3 (ImageNet).",
    "(c) Δ<i>Lat</i>(<i>𝒩</i><sub>(<i>i</i>,1)→(<i>i</i>,<i>j</i>)</sub>) vs <i>FLOPs</i>(<i>𝒩</i>) on NAS-Bench-201 (edgegpu).",
    "(d) Δ<i>Eng</i>(<i>𝒩</i><sub>(<i>i</i>,1)→(<i>i</i>,<i>j</i>)</sub>) vs <i>FLOPs</i>(<i>𝒩</i>) on NAS-Bench-201 (edgegpu).",
]
CAPTION_Y = [178, 363, 556, 749]

def strip(cols):
    xs, ys = [], []
    for x, vals in cols:
        for v in vals:
            xs.append(x); ys.append(v)
    return xs, ys

def cloud(pts):
    return [p[0] for p in pts], [p[1] for p in pts]

PANELS = []
rowA_boxes = [(42,3,177,135),(218,3,353,133),(393,3,528,135),(573,3,708,133),(744,3,879,135),(921,3,1049,135)]
rowA_y = [(-0.18,1.14,0.2),(-0.17,0.96,0.2),(-0.1,0.77,0.1),(-0.26,0.96,0.2),(-0.14,0.89,0.2),(-0.11,1.12,0.2)]
for d, bx, (y0, y1, dt) in zip([A1,A2,A3,A4,A5,A6], rowA_boxes, rowA_y):
    xr = [32, 186] if bx[2] < 1049 else [32, 182]
    PANELS.append(dict(xy=strip(d), box=bx, xr=xr, yr=[y0,y1], dt=dt, fmt=".1f",
                       yt="Accuracy loss(%)", kind="a"))
rowB_boxes = [(49,195,177,320),(225,195,353,320),(401,195,528,320),(576,195,704,320),(752,195,879,320),(927,195,1049,321)]
rowB_y = [(0.08,0.59,0.1),(0.02,0.46,0.1),(0.13,0.77,0.1),(0.05,0.54,0.1),(0.13,0.77,0.1),(0.39,1.345,0.1)]
for d, bx, (y0, y1, dt) in zip([B1,B2,B3,B4,B5,B6], rowB_boxes, rowB_y):
    xr = [243, 589] if bx[2] < 1049 else [244, 569]
    PANELS.append(dict(xy=cloud(d), box=bx, xr=xr, yr=[y0,y1], dt=dt, fmt=".1f",
                       yt="Accuracy loss(%)", kind="b"))
rowC_boxes = [(42,384,177,518),(218,384,353,518),(393,384,528,518),(568,384,703,518),(743,384,879,518),(919,385,1049,518)]
rowC_y = [(-3.9,4.25,1),(-1.8,3.84,1),(-4.05,2.94,1),(-3.4,4.35,1),(-2.9,4.27,1),(-2.9,4.16,1)]
for d, bx, (y0, y1, dt) in zip([C1,C2,C3,C4,C5,C6], rowC_boxes, rowC_y):
    xr = [38, 191] if bx[2] < 1049 else [36, 186.5]
    PANELS.append(dict(xy=strip(d), box=bx, xr=xr, yr=[y0,y1], dt=dt, fmt="d",
                       yt="Latency loss(ms)", kind="c"))
rowD_boxes = [(46,582,178,710),(217,579,353,712),(395,582,529,710),(572,580,705,710),(748,582,880,710),(919,578,1049,711)]
rowD_y = [(-8.7,11.1,2.5,".1f"),(-7.15,8.1,2,"d"),(-10.1,7.5,2,"d"),(-8.9,11.75,2.5,".1f"),(-8.1,11.05,2.5,".1f"),(-7.2,10.67,2,"d")]
for d, bx, (y0, y1, dt, fm) in zip([D1,D2,D3,D4,D5,D6], rowD_boxes, rowD_y):
    xr = [35, 188] if bx[2] < 1049 else [36, 186.5]
    PANELS.append(dict(xy=strip(d), box=bx, xr=xr, yr=[y0,y1], dt=dt, fmt=fm,
                       yt="Energy loss(mJ)", kind="d"))

STYLE = {
    "a": dict(ms=5.5, tick=6.5, xts=12, yts=12, xdt=25, x0=50, xso=0),
    "b": dict(ms=3.6, tick=11, xts=10, yts=11, xdt=100, x0=300, xso=0),
    "c": dict(ms=6, tick=6.5, xts=11.5, yts=11.5, xdt=25, x0=50, xso=0),
    "d": dict(ms=6, tick=6.5, xts=11.5, yts=11, xdt=25, x0=50, xso=0),
}

fig = go.Figure()
layout = dict(width=W, height=H, margin=dict(l=0, r=0, t=0, b=0),
              paper_bgcolor="white", plot_bgcolor="white", showlegend=False,
              font=dict(family="DejaVu Sans", color="#333333"))
for i, p in enumerate(PANELS, start=1):
    st = STYLE[p["kind"]]
    l, t, r, b = p["box"]
    sfx = "" if i == 1 else str(i)
    fig.add_trace(go.Scatter(x=p["xy"][0], y=p["xy"][1], mode="markers",
                             marker=dict(color=ORANGE, size=st["ms"], line=dict(width=0)),
                             xaxis="x" + sfx, yaxis="y" + sfx, hoverinfo="skip"))
    common = dict(showgrid=True, gridcolor="#dddddd", gridwidth=1, zeroline=False,
                  showline=True, linecolor="#a8a8a8", linewidth=1, mirror=True,
                  ticks="", tickfont=dict(size=st["tick"], color="#444444", family="DejaVu Sans"))
    layout["xaxis" + sfx] = dict(common, domain=[l / W, min(r / W, 1.0)], anchor="y" + sfx,
                                 range=p["xr"], tick0=st["x0"], dtick=st["xdt"],
                                 title=dict(text="FLOPs(M)", font=dict(size=st["xts"], color="#3a3a3a"),
                                            standoff=st["xso"]))
    layout["yaxis" + sfx] = dict(common, domain=[1 - b / H, 1 - t / H], anchor="x" + sfx,
                                 range=p["yr"], tick0=0, dtick=p["dt"], tickformat=p["fmt"],
                                 title=dict(text=p["yt"], font=dict(size=st["yts"], color="#3a3a3a"), standoff=4))

annotations = []
for txt, y in zip(CAPTIONS, CAPTION_Y):
    annotations.append(dict(text=txt, x=535 / W, y=1 - y / H, xref="paper", yref="paper",
                            xanchor="center", yanchor="middle", showarrow=False,
                            font=dict(family="Liberation Serif", size=26, color="#111111")))
layout["annotations"] = annotations
fig.update_layout(**layout)
fig.write_html("out.html", config={"displayModeBar": False},
               post_script="document.body.style.margin='0';document.body.style.overflow='hidden';")
